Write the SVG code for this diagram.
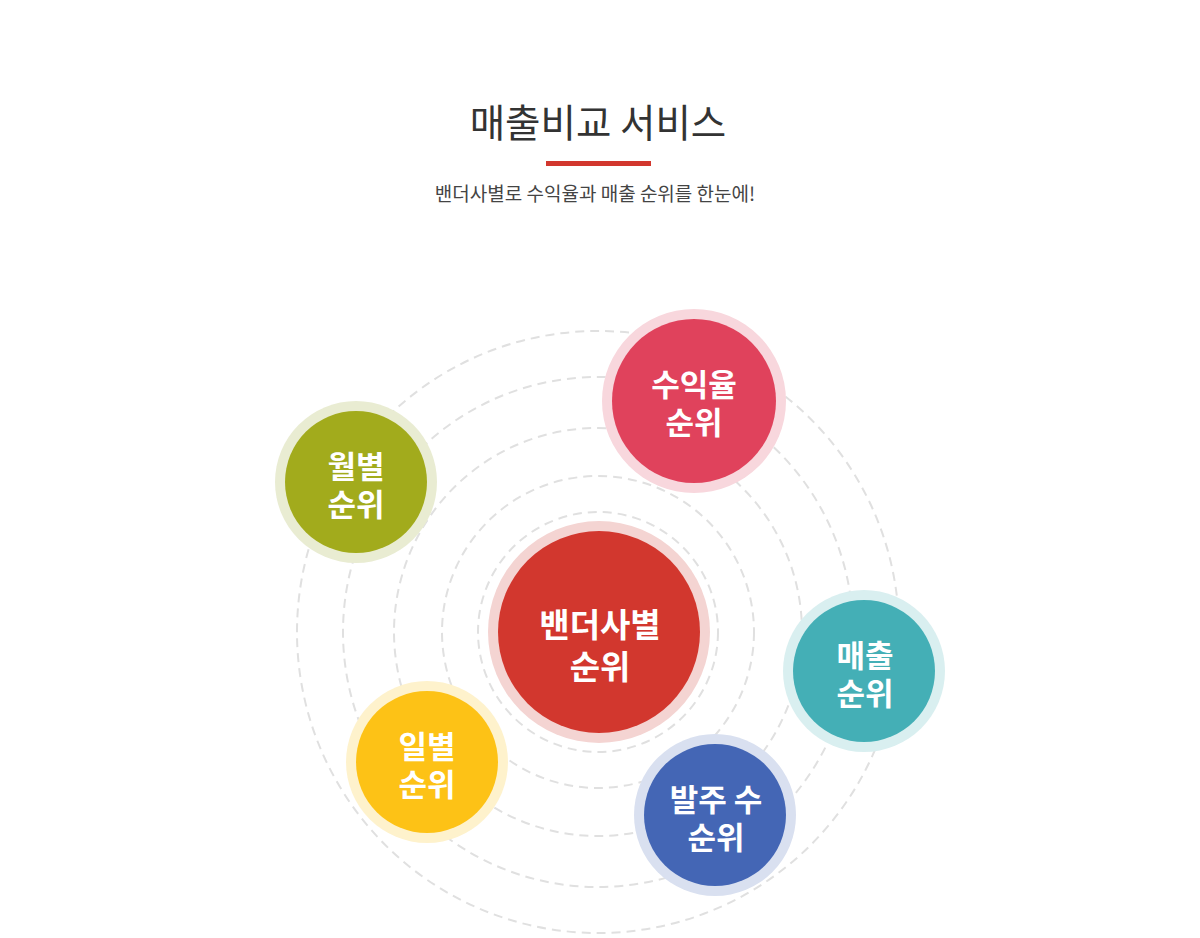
<svg xmlns="http://www.w3.org/2000/svg" width="1200" height="938" viewBox="0 0 1200 938">
<style>
.ring{fill:none;stroke:#e0e0e0;stroke-width:2;stroke-dasharray:9 6}
.lbl{font-family:"Noto Sans CJK KR","Noto Sans",sans-serif;font-weight:700;fill:#fff;text-anchor:middle}
.s{font-size:31px}
.c{font-size:33px}
</style>
<rect width="1200" height="938" fill="#fff"/>
<g id="header">
<text x="598" y="137" font-family="'Noto Sans CJK KR','Noto Sans',sans-serif" font-size="38.5" fill="#333" text-anchor="middle">매출비교 서비스</text>
<rect x="546" y="161" width="105" height="5" fill="#d2372e"/>
<text x="595" y="201" font-family="'Noto Sans CJK KR','Noto Sans',sans-serif" font-size="19" fill="#444" text-anchor="middle">밴더사별로 수익율과 매출 순위를 한눈에!</text>
</g>
<g id="connectors">
<circle class="ring" cx="598" cy="632" r="301"/>
<circle class="ring" cx="598" cy="632" r="255"/>
<circle class="ring" cx="598" cy="632" r="204"/>
<circle class="ring" cx="598" cy="632" r="156"/>
<circle class="ring" cx="598" cy="632" r="120"/>
</g>
<g id="node-center">
<circle cx="599" cy="632" r="111" fill="#f4d4d2"/>
<circle cx="599" cy="632" r="101" fill="#d2372e"/>
<text class="lbl c"><tspan x="600" y="637">밴더사별</tspan><tspan x="600" y="679">순위</tspan></text>
</g>
<g id="node-profit">
<circle cx="694" cy="401" r="92" fill="#f8d7dd"/>
<circle cx="694" cy="401" r="82" fill="#e0425c"/>
<text class="lbl s"><tspan x="694" y="396">수익율</tspan><tspan x="694" y="434">순위</tspan></text>
</g>
<g id="node-monthly">
<circle cx="356" cy="482" r="81" fill="#e9ecd2"/>
<circle cx="356" cy="482" r="71" fill="#a2ab1c"/>
<text class="lbl s"><tspan x="356" y="478">월별</tspan><tspan x="356" y="516">순위</tspan></text>
</g>
<g id="node-sales">
<circle cx="864" cy="671" r="81" fill="#d9eff0"/>
<circle cx="864" cy="671" r="71" fill="#44afb6"/>
<text class="lbl s"><tspan x="865" y="667">매출</tspan><tspan x="865" y="705">순위</tspan></text>
</g>
<g id="node-orders">
<circle cx="715" cy="815" r="81" fill="#d9e0f0"/>
<circle cx="715" cy="815" r="71" fill="#4466b5"/>
<text class="lbl s"><tspan x="716" y="811">발주 수</tspan><tspan x="716" y="849">순위</tspan></text>
</g>
<g id="node-daily">
<circle cx="427" cy="762" r="81" fill="#fef2cc"/>
<circle cx="427" cy="762" r="71" fill="#fdc216"/>
<text class="lbl s"><tspan x="427" y="758">일별</tspan><tspan x="427" y="796">순위</tspan></text>
</g>
</svg>
